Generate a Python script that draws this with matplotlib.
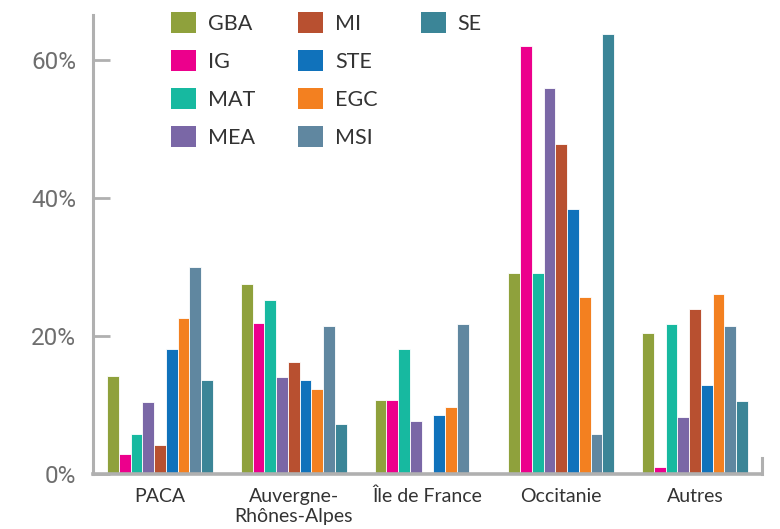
import matplotlib
matplotlib.use("Agg")
import matplotlib.pyplot as plt
import numpy as np
from matplotlib.patches import Rectangle

categories = ["PACA", "Auvergne-\nRhônes-Alpes", "Île de France", "Occitanie", "Autres"]
series_names = ["GBA", "IG", "MAT", "MEA", "MI", "STE", "EGC", "MSI", "SE"]
colors = ["#8fa13c", "#ec008c", "#17b9a0", "#7a67a6", "#b85030",
          "#1072bb", "#f38020", "#6087a0", "#3b8597"]

GBA = [14.2, 27.5, 10.7, 29.1, 20.4]
IG  = [2.9, 21.9, 10.7, 62.0, 1.0]
MAT = [5.8, 25.2, 18.1, 29.1, 21.7]
MEA = [10.4, 14.1, 7.7, 55.9, 8.3]
MI  = [4.2, 16.2, 0.0, 47.8, 23.9]
STE = [18.1, 13.6, 8.6, 38.4, 12.9]
EGC = [22.6, 12.3, 9.7, 25.7, 26.1]
MSI = [30.0, 21.4, 21.7, 5.8, 21.4]
SE  = [13.6, 7.2, 0.0, 63.8, 10.6]
values = [GBA, IG, MAT, MEA, MI, STE, EGC, MSI, SE]

yticks = [0, 20, 40, 60]
ytick_labels = ["0%", "20%", "40%", "60%"]

fig = plt.figure(figsize=(7.8, 5.29), dpi=100)
ax = fig.add_axes([93/780, 1 - 474/529, (762 - 93)/780, (474 - 15)/529])

x = np.arange(len(categories))
n = len(series_names)
slot = 0.79 / n
for i, (name, vals, col) in enumerate(zip(series_names, values, colors)):
    offs = (i - (n - 1) / 2) * slot
    ax.bar(x + offs, vals, width=slot, color=col, edgecolor="white",
           linewidth=0.6, label=name, zorder=2)

ax.set_xlim(-0.5, 4.5)
ax.set_ylim(0, 66.5)

gray = "#b0b0b0"
ax.spines["top"].set_visible(False)
for s in ["left", "bottom", "right"]:
    ax.spines[s].set_color(gray)
ax.spines["left"].set_linewidth(2.2)
ax.spines["bottom"].set_linewidth(2.6)
ax.spines["right"].set_linewidth(2.2)
ax.spines["right"].set_bounds(0, 2.3)

ax.set_yticks(yticks)
ax.set_yticklabels(ytick_labels, fontsize=17.5, color="#6e6e6e", family="Roboto")
ax.tick_params(axis="y", direction="in", length=12, width=2, color=gray, pad=12)
ax.set_xticks(x)
ax.set_xticklabels(categories, fontsize=14, color="#333333", family="Lato",
                   linespacing=1.2)
ax.tick_params(axis="x", length=0, pad=10)

handles = [Rectangle((0, 0), 1, 1, facecolor=c, edgecolor="none") for c in colors]
labels = list(series_names)
blank = Rectangle((0, 0), 1, 1, facecolor="none", edgecolor="none")
handles += [blank] * 3
labels += [""] * 3
leg = ax.legend(handles, labels, ncol=3, loc="upper left",
                bbox_to_anchor=(0.0935, 1.04), frameon=False,
                prop={"family": "Lato", "size": 15.5},
                handlelength=1.17, handleheight=1.17, handletextpad=0.55,
                labelspacing=0.74, columnspacing=2.0, borderpad=0.2)
for t in leg.get_texts():
    t.set_color("#333333")

fig.savefig("out.png", dpi=100)
